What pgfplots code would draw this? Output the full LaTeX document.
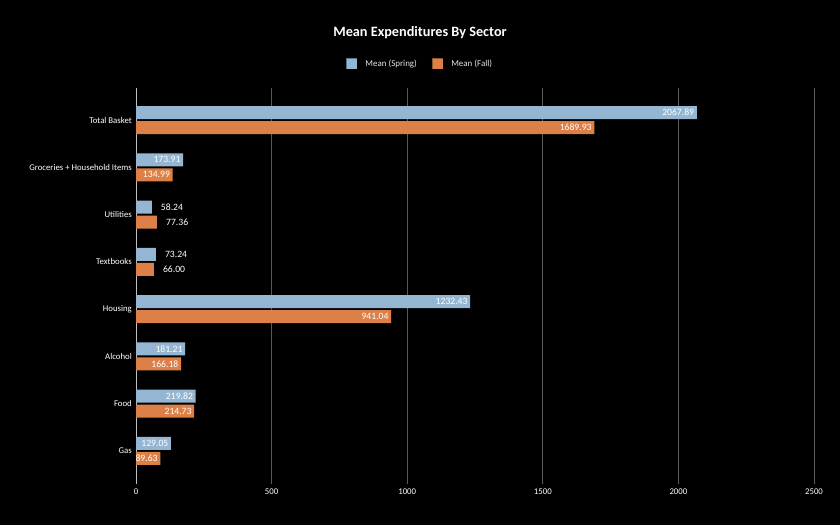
\documentclass[border=0pt]{standalone}
\usepackage{fontspec}
\setmainfont{Carlito}
\usepackage{pgfplots}
\usepackage{pgfplotstable}
\pgfplotsset{compat=1.18}

\definecolor{springc}{RGB}{148,182,210}
\definecolor{fallc}{RGB}{221,128,71}
\definecolor{gridc}{RGB}{89,89,89}
\definecolor{zeroc}{RGB}{191,191,191}

% y: 0 = Gas ... 7 = Total Basket
% bars whose value label sits inside the bar
\pgfplotstableread{
y x label
0 129.05 129.05
1 219.82 219.82
2 181.21 181.21
3 1232.43 1232.43
6 173.91 173.91
7 2067.89 2067.89
}\springin
% bars too short, label placed to the right
\pgfplotstableread{
y x label
4 73.24 73.24
5 58.24 58.24
}\springout

\pgfplotstableread{
y x label
0 89.63 89.63
1 214.73 214.73
2 166.18 166.18
3 941.04 941.04
6 134.99 134.99
7 1689.93 1689.93
}\fallin
\pgfplotstableread{
y x label
4 66.00 66.00
5 77.36 77.36
}\fallout

\begin{document}
\begin{tikzpicture}
\fill[black] (0,0) rectangle (840bp,525bp);
\begin{axis}[
    at={(136bp,41bp)}, anchor=south west,
    scale only axis, width=678bp, height=396bp,
    xbar, bar width=13bp,
    xmin=0, xmax=2500, ymin=-0.7, ymax=7.68,
    xtick={500,1000,...,2500},
    extra x ticks={0},
    extra x tick style={grid style={zeroc, line width=0.9bp}},
    xmajorgrids, grid style={gridc, line width=0.8bp},
    ytick={0,...,7},
    yticklabels={Gas,Food,Alcohol,Housing,Textbooks,Utilities,Groceries + Household Items,Total Basket},
    major tick length=0pt,
    axis line style={draw=none},
    tick label style={font=\fontsize{8.8}{10}\selectfont, text=white},
    /pgf/number format/1000 sep={},
    /pgf/number format/assume math mode=true,
    yticklabel style={inner sep=0pt, xshift=-4bp},
    xticklabel style={inner sep=0pt, yshift=-5bp},
    point meta=explicit symbolic,
    nodes near coords,
    every node near coord/.append style={text=white, font=\fontsize{9.7}{10}\selectfont, inner sep=0pt},
    inlbl/.style={every node near coord/.append style={anchor=east, xshift=-2.5bp}},
    outlbl/.style={every node near coord/.append style={anchor=west, xshift=9bp}},
    legend columns=2,
    legend style={at={(0.419,1.061)}, anchor=center, draw=none, fill=none,
        text=white!90!black, font=\fontsize{9}{10}\selectfont,
        /tikz/every odd column/.append style={column sep=6bp},
        /tikz/every even column/.append style={column sep=13bp}},
    legend image code/.code={\draw[#1, draw=black, draw opacity=0.35] (0bp,-5.5bp) rectangle (11bp,5.5bp);},
]
\addplot[fill=springc, draw=none, bar shift=7.5bp, inlbl] table[x=x, y=y, meta=label] {\springin};
\addlegendentry{Mean (Spring)}
\addplot[fill=fallc, draw=none, bar shift=-7.5bp, inlbl] table[x=x, y=y, meta=label] {\fallin};
\addlegendentry{Mean (Fall)}
\addplot[fill=springc, draw=none, bar shift=7.5bp, outlbl, forget plot] table[x=x, y=y, meta=label] {\springout};
\addplot[fill=fallc, draw=none, bar shift=-7.5bp, outlbl, forget plot] table[x=x, y=y, meta=label] {\fallout};
\end{axis}
\node[font=\bfseries\fontsize{14.3}{16}\selectfont, text=white] at (420bp,492bp) {Mean Expenditures By Sector};
\end{tikzpicture}
\end{document}
